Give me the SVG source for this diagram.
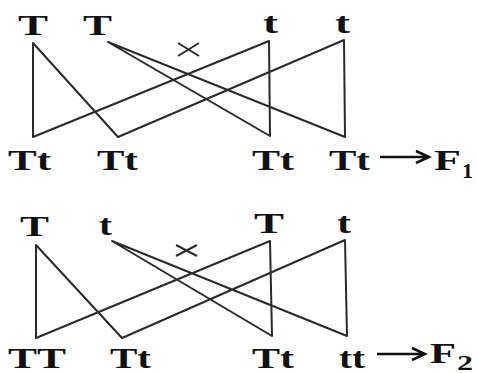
<svg xmlns="http://www.w3.org/2000/svg" width="477" height="373" viewBox="0 0 477 373">
<defs>
<style>
text{font-family:"Liberation Serif","Times New Roman",serif;font-weight:bold;font-size:29px;fill:#111}
.sub{font-size:20px}
.ln{stroke:#2a2a2a;stroke-width:2;fill:none;stroke-linejoin:round}
.ar{stroke:#111;stroke-width:2.5;fill:none}
</style>
</defs>
<rect width="477" height="373" fill="#fff"/>
<g id="cross1">
<text x="18" y="35" textLength="30" lengthAdjust="spacingAndGlyphs">T</text>
<text x="83" y="35" textLength="29" lengthAdjust="spacingAndGlyphs">T</text>
<text x="263" y="33" textLength="15" lengthAdjust="spacingAndGlyphs">t</text>
<text x="335" y="33" textLength="15" lengthAdjust="spacingAndGlyphs">t</text>
<path class="ln" d="M178,43 L199,56 M199,43 L178,56"/>
</g>
<g id="f1">
<text x="8" y="170" textLength="43" lengthAdjust="spacingAndGlyphs">Tt</text>
<text x="97" y="170" textLength="41" lengthAdjust="spacingAndGlyphs">Tt</text>
<text x="252" y="170" textLength="42" lengthAdjust="spacingAndGlyphs">Tt</text>
<text x="329" y="170" textLength="41" lengthAdjust="spacingAndGlyphs">Tt</text>
<path class="ar" d="M380,157 L428,157 M416,151 L429,157 L416,163"/>
<text x="434" y="170" textLength="27" lengthAdjust="spacingAndGlyphs">F</text>
<text class="sub" x="462" y="178" textLength="11" lengthAdjust="spacingAndGlyphs">1</text>
</g>
<g id="cross2">
<text x="20" y="236" textLength="29" lengthAdjust="spacingAndGlyphs">T</text>
<text x="99" y="235" textLength="13" lengthAdjust="spacingAndGlyphs">t</text>
<text x="254" y="233" textLength="30" lengthAdjust="spacingAndGlyphs">T</text>
<text x="337" y="233" textLength="14" lengthAdjust="spacingAndGlyphs">t</text>
<path class="ln" d="M176,245 L197,256 M197,245 L176,256"/>
</g>
<g id="f2">
<text x="8" y="368" textLength="58" lengthAdjust="spacingAndGlyphs">TT</text>
<text x="110" y="368" textLength="41" lengthAdjust="spacingAndGlyphs">Tt</text>
<text x="252" y="368" textLength="42" lengthAdjust="spacingAndGlyphs">Tt</text>
<text x="339" y="368" textLength="26" lengthAdjust="spacingAndGlyphs">tt</text>
<path class="ar" d="M377,354 L424,354 M412,348 L425,354 L412,360"/>
<text x="430" y="363" textLength="26" lengthAdjust="spacingAndGlyphs">F</text>
<text class="sub" x="457" y="370" textLength="16" lengthAdjust="spacingAndGlyphs">2</text>
</g>
<g id="connectors">
<path class="ln" d="M33,137 L33,43 L118,137 L344,40 L345,137 L108,42 L270,136 L269,41 Z"/>
<path class="ln" d="M36,338 L36,245 L122,338 L345,240 L347,336 L112,241 L272,336 L270,241 Z"/>
</g>
</svg>
